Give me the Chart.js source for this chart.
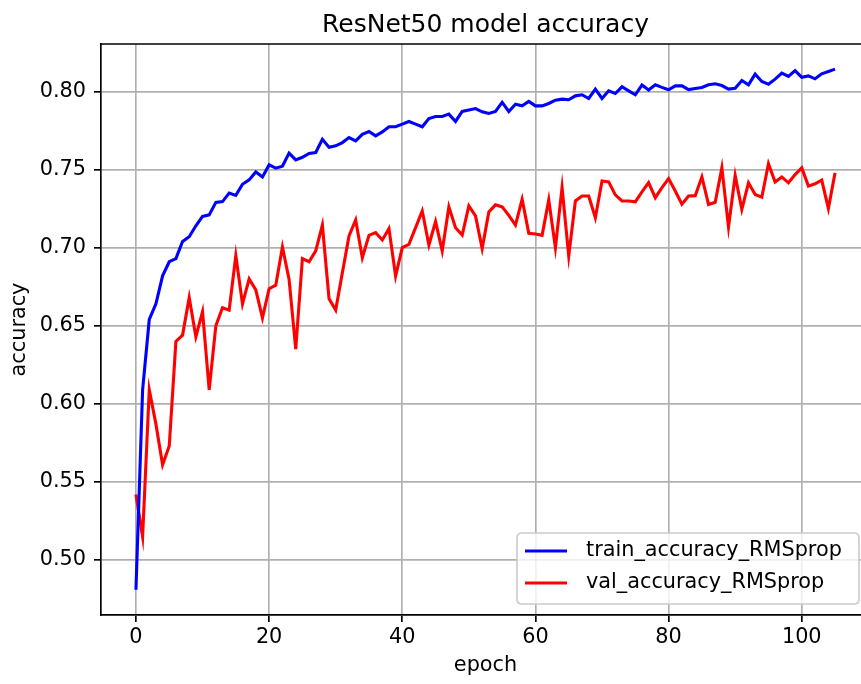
<!DOCTYPE html>
<html>
<head>
<meta charset="utf-8">
<title>ResNet50 model accuracy</title>
<script src="https://cdn.jsdelivr.net/npm/chart.js@4/dist/chart.umd.min.js"></script>
<style>
  html, body { margin: 0; padding: 0; overflow: hidden; background: #fff; width: 861px; height: 684px; }
  canvas { display: block; }
</style>
</head>
<body>
<canvas id="myChart" width="900" height="684"></canvas>
<script>
// values, one per epoch (0..105)
const trainAcc = [
  0.481, 0.609, 0.654, 0.664, 0.682, 0.691, 0.693, 0.704, 0.707, 0.714,
  0.720, 0.721, 0.729, 0.7295, 0.735, 0.7335, 0.7406, 0.7434, 0.7485, 0.7453,
  0.753, 0.7509, 0.7521, 0.7605, 0.7562, 0.7579, 0.7603, 0.7609, 0.7694, 0.7643,
  0.7652, 0.7673, 0.7705, 0.7684, 0.7726, 0.7744, 0.7716, 0.7741, 0.7774, 0.7774,
  0.7791, 0.7808, 0.7791, 0.7774, 0.7827, 0.784, 0.784, 0.7855, 0.7808, 0.7872,
  0.7882, 0.7891, 0.787, 0.7859, 0.7872, 0.793, 0.7872, 0.7919, 0.7908, 0.7936,
  0.7908, 0.7908, 0.7923, 0.7944, 0.7951, 0.7947, 0.7972, 0.7979, 0.7955, 0.8015,
  0.7955, 0.8004, 0.7987, 0.803, 0.8004, 0.7979, 0.8041, 0.8009, 0.8043, 0.8026,
  0.8011, 0.8036, 0.8036, 0.8012, 0.8019, 0.8026, 0.8043, 0.8049, 0.8038, 0.8015,
  0.8021, 0.807, 0.8043, 0.8111, 0.8064, 0.8047, 0.8079, 0.8117, 0.8096, 0.8134,
  0.8091, 0.81, 0.8081, 0.8113, 0.8128, 0.8143
];
const valAcc = [
  0.542, 0.515, 0.609, 0.587, 0.561, 0.573, 0.640, 0.644, 0.668, 0.643,
  0.659, 0.609, 0.650, 0.6615, 0.660, 0.695, 0.664, 0.680, 0.673, 0.655,
  0.6737, 0.676, 0.7004, 0.6797, 0.635, 0.693, 0.691, 0.698, 0.7145, 0.6673,
  0.660, 0.684, 0.7075, 0.7177, 0.6936, 0.7079, 0.7096, 0.7049, 0.7122, 0.6818,
  0.700, 0.7021, 0.7128, 0.7235, 0.7017, 0.7167, 0.6979, 0.7261, 0.7128, 0.7081,
  0.7267, 0.7203, 0.6994, 0.7229, 0.7274, 0.7261, 0.7207, 0.7145, 0.731, 0.7092,
  0.7088, 0.7079, 0.7306, 0.700, 0.7385, 0.6947, 0.7299, 0.7331, 0.7331, 0.7192,
  0.7427, 0.7421, 0.7338, 0.7299, 0.7299, 0.7293, 0.7357, 0.7417, 0.732, 0.7385,
  0.7442, 0.7363, 0.7278, 0.7331, 0.7333, 0.7453, 0.7277, 0.7291, 0.7511, 0.7132,
  0.7462, 0.7245, 0.7415, 0.734, 0.7323, 0.7538, 0.7421, 0.7453, 0.7415, 0.7468,
  0.7511, 0.7394, 0.7409, 0.7432, 0.7251, 0.7479
];
const xTicks = [0, 20, 40, 60, 80, 100];
const yTicks = [0.50, 0.55, 0.60, 0.65, 0.70, 0.75, 0.80];
const chartTitle = 'ResNet50 model accuracy';

const epochs = trainAcc.map((v, i) => i);
const toPoints = arr => arr.map((v, i) => ({ x: epochs[i], y: v }));

Chart.defaults.font.family = "'DejaVu Sans', sans-serif";
Chart.defaults.font.size = 20.8;
Chart.defaults.color = '#000';

// matplotlib-ish title over the axes, top spine, and legend box in the lower right
const mplBits = {
  id: 'mplBits',
  afterDraw(chart) {
    const { ctx, chartArea: a } = chart;
    ctx.save();

    ctx.font = "25px 'DejaVu Sans', sans-serif";
    ctx.fillStyle = '#000';
    ctx.textAlign = 'center';
    ctx.textBaseline = 'alphabetic';
    ctx.fillText(chartTitle, (a.left + a.right) / 2, a.top - 12.5);

    // top spine (right spine falls outside the picture)
    ctx.strokeStyle = '#000';
    ctx.lineWidth = 1.67;
    ctx.beginPath();
    ctx.moveTo(a.left, a.top);
    ctx.lineTo(a.right, a.top);
    ctx.stroke();

    // legend
    const bx = 517, by = 533, bw = 342, bh = 71, r = 5;
    ctx.beginPath();
    ctx.moveTo(bx + r, by);
    ctx.lineTo(bx + bw - r, by);
    ctx.quadraticCurveTo(bx + bw, by, bx + bw, by + r);
    ctx.lineTo(bx + bw, by + bh - r);
    ctx.quadraticCurveTo(bx + bw, by + bh, bx + bw - r, by + bh);
    ctx.lineTo(bx + r, by + bh);
    ctx.quadraticCurveTo(bx, by + bh, bx, by + bh - r);
    ctx.lineTo(bx, by + r);
    ctx.quadraticCurveTo(bx, by, bx + r, by);
    ctx.closePath();
    ctx.fillStyle = 'rgba(255,255,255,0.8)';
    ctx.fill();
    ctx.strokeStyle = '#cccccc';
    ctx.lineWidth = 1.7;
    ctx.stroke();

    ctx.font = "20.8px 'DejaVu Sans', sans-serif";
    ctx.textBaseline = 'middle';
    ctx.textAlign = 'left';
    chart.data.datasets.forEach((ds, i) => {
      const y = 551 + i * 32;
      ctx.strokeStyle = ds.borderColor;
      ctx.lineWidth = 3.1;
      ctx.beginPath();
      ctx.moveTo(525, y);
      ctx.lineTo(567, y);
      ctx.stroke();
      ctx.fillStyle = '#000';
      ctx.fillText(ds.label, 586, y);
    });
    ctx.restore();
  }
};

const ctx = document.getElementById('myChart').getContext('2d');
const myChart = new Chart(ctx, {
  type: 'line',
  data: {
    datasets: [
      {
        label: 'train_accuracy_RMSprop',
        data: toPoints(trainAcc),
        borderColor: '#0000ff',
        backgroundColor: '#0000ff',
        borderWidth: 3.1,
        pointRadius: 0,
        tension: 0
      },
      {
        label: 'val_accuracy_RMSprop',
        data: toPoints(valAcc),
        borderColor: '#ff0000',
        backgroundColor: '#ff0000',
        borderWidth: 3.1,
        pointRadius: 0,
        tension: 0
      }
    ]
  },
  options: {
    responsive: false,
    animation: false,
    devicePixelRatio: 1,
    layout: { padding: { left: 0, right: 30, top: 44, bottom: 0 } },
    plugins: {
      legend: { display: false },
      tooltip: { enabled: false },
      title: { display: false }
    },
    scales: {
      x: {
        type: 'linear',
        min: -5.25,
        max: 110.25,
        afterBuildTicks: s => { s.ticks = xTicks.map(v => ({ value: v })); },
        afterFit: s => { s.height = 69; },
        ticks: { padding: 3, maxRotation: 0, callback: v => String(v) },
        grid: { color: '#b0b0b0', lineWidth: 1.67, tickLength: 7, tickColor: '#000', tickWidth: 1.67 },
        border: { display: true, color: '#000', width: 1.67 },
        title: { display: true, text: 'epoch', padding: { top: 0, bottom: 6 } }
      },
      y: {
        min: 0.4648,
        max: 0.8304,
        afterBuildTicks: s => { s.ticks = yTicks.map(v => ({ value: v })); },
        afterFit: s => { s.width = 101; },
        ticks: { padding: 8, callback: v => v.toFixed(2) },
        grid: { color: '#b0b0b0', lineWidth: 1.67, tickLength: 7, tickColor: '#000', tickWidth: 1.67 },
        border: { display: true, color: '#000', width: 1.67 },
        title: { display: true, text: 'accuracy', padding: { top: 7, bottom: 0 } }
      }
    }
  },
  plugins: [mplBits]
});
</script>
</body>
</html>
